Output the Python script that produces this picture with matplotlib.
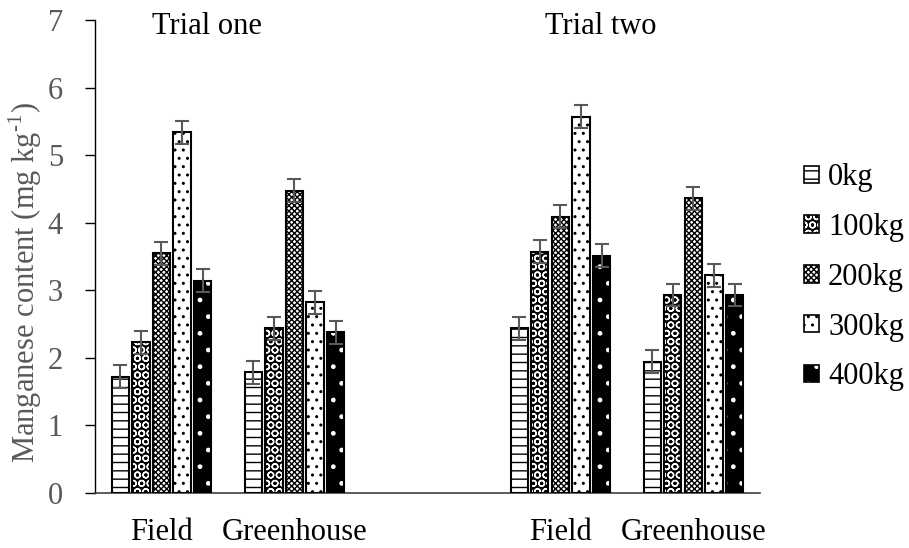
import numpy as np
import matplotlib
matplotlib.use('Agg')
import matplotlib.pyplot as plt
from matplotlib.patches import Patch
from matplotlib.legend_handler import HandlerTuple

plt.rc('font', family='Liberation Serif', size=22)
plt.rc('mathtext', fontset='custom', rm='Liberation Serif')
plt.rc('hatch', linewidth=1.0)

grey = '#595959'

categories = ['Field', 'Greenhouse', '', 'Field', 'Greenhouse']
doses = ['0kg', '100kg', '200kg', '300kg', '400kg']

# Mn content per dose; the blank category separates the two trials
mn_0kg = [1.72, 1.79, np.nan, 2.44, 1.94]
mn_100kg = [2.23, 2.44, np.nan, 3.57, 2.93]
mn_200kg = [3.55, 4.47, np.nan, 4.09, 4.36]
mn_300kg = [5.34, 2.82, np.nan, 5.57, 3.22]
mn_400kg = [3.14, 2.38, np.nan, 3.51, 2.93]
mn_err = [0.17, 0.17, np.nan, 0.17, 0.17]

series = [mn_0kg, mn_100kg, mn_200kg, mn_300kg, mn_400kg]

# (face, hatch colour, hatch)
styles = [('white', 'black', '--'),
          ('black', 'white', 'OO'),
          ('white', 'black', 'xxxxxx'),
          ('white', 'black', '..'),
          ('black', 'white', '.')]

fig = plt.figure(figsize=(9.09, 5.48), dpi=100)
ax = fig.add_axes([0.1045, 0.1004, 0.7315, 0.8631])

x = np.arange(len(categories))
step, width = 0.155, 0.13
handles = []
for i, (vals, (fc, hc, hatch)) in enumerate(zip(series, styles)):
    xs = x + (i - 2) * step
    ax.bar(xs, vals, width, color=fc, edgecolor=hc, hatch=hatch, linewidth=0, zorder=2)
    ax.bar(xs, vals, width, fill=False, edgecolor='black', linewidth=1.5, zorder=3)
    ax.errorbar(xs, vals, yerr=mn_err, fmt='none', ecolor=grey, elinewidth=1.5,
                capsize=5, capthick=1.5, zorder=4)
    handles.append((Patch(facecolor=fc, edgecolor=hc, hatch=hatch, linewidth=0),
                    Patch(fill=False, edgecolor='black', linewidth=1.2)))

ax.set_xlim(-0.5, len(categories) - 0.5)
ax.set_ylim(0, 7)
ax.set_xticks(x)
ax.set_xticklabels(categories)
ax.set_yticks(range(8))
ax.tick_params(axis='x', length=0, pad=18, labelcolor='black')
ax.tick_params(axis='y', length=7, width=1, pad=16, labelcolor=grey)

for s in ['top', 'right']:
    ax.spines[s].set_visible(False)
ax.spines['left'].set_linewidth(1)
ax.spines['bottom'].set_linewidth(1.2)
ax.spines['bottom'].set_color('#404040')

ax.set_ylabel(r'Manganese content (mg kg$^{\text{-1}}$)', color=grey)
ax.yaxis.set_label_coords(-0.076, 0.445)

ax.text(0.34, 6.9, 'Trial one', ha='center', va='center')
ax.text(3.30, 6.9, 'Trial two', ha='center', va='center')

fig.legend(handles, doses, loc='center left', bbox_to_anchor=(0.884, 0.494),
           frameon=False, handlelength=0.5, handleheight=0.5, handletextpad=0.3,
           labelspacing=0.68, borderpad=0, borderaxespad=0,
           handler_map={tuple: HandlerTuple(ndivide=1)})

fig.savefig('out.png', dpi=100)
